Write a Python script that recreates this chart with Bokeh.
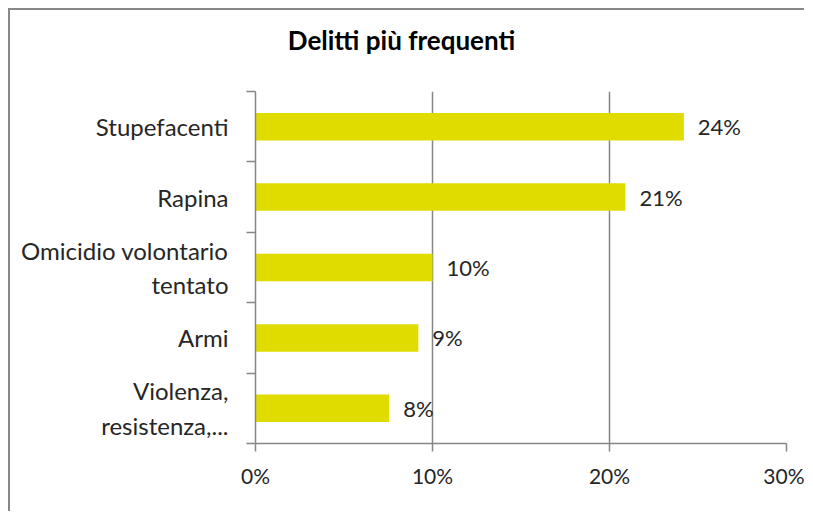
import numpy as np
from bokeh.plotting import figure
from bokeh.models import Range1d, FixedTicker, PrintfTickFormatter, LabelSet, ColumnDataSource, Label
from bokeh.core.properties import value
from bokeh.embed import file_html
from bokeh.resources import INLINE

categories = ["Stupefacenti", "Rapina", "Omicidio volontario\ntentato", "Armi", "Violenza,\nresistenza,..."]
values = [24.2, 20.9, 10.0, 9.2, 7.55]
value_labels = ["24%", "21%", "10%", "9%", "8%"]
x_ticks = [0, 10, 20, 30]
title_text = "Delitti più frequenti"

FONT = "Lato"
TXT = "#262626"
AX = "#868686"
BAR = "#E0DC00"

n = len(categories)
centers = (np.arange(n) + 0.5).tolist()
boundaries = list(range(n + 1))

src = ColumnDataSource(dict(y=centers, v=values, lab=value_labels))

W, H = 796, 503
BL, BR, BT, BB = 245, 20, 81, 70
p = figure(width=W, height=H, output_backend="svg", toolbar_location=None,
           x_range=Range1d(0, x_ticks[-1]), y_range=Range1d(n, 0),
           min_border_left=BL, min_border_right=BR, min_border_top=BT, min_border_bottom=BB)
p.styles = {"margin-left": "8px", "margin-top": "8px",
            "border-left": "2px solid #878787", "border-top": "2px solid #878787"}
p.outline_line_color = None
p.background_fill_color = "white"
p.border_fill_color = "white"

p.hbar(y="y", right="v", left=0, height=0.39, source=src, fill_color=BAR, line_color=None)

labels = LabelSet(x="v", y="y", text="lab", source=src, x_offset=14, text_baseline="middle",
                  text_font=value(FONT), text_font_size="22px", text_color=TXT)
p.add_layout(labels)

# chart title, placed in the panel above the frame
title = Label(text=title_text, x_units="screen", y_units="screen",
              x=146, y=52, text_align="center", text_baseline="middle",
              text_font=FONT, text_font_style="bold", text_font_size="26px", text_color="#000000")
p.add_layout(title, "above")

# x axis
xa = p.xaxis[0]
xa.ticker = FixedTicker(ticks=x_ticks)
xa.formatter = PrintfTickFormatter(format="%d%%")
xa.axis_line_color = AX
xa.axis_line_width = 1.5
xa.major_tick_line_color = AX
xa.major_tick_line_width = 1.5
xa.major_tick_out = 8
xa.major_tick_in = 0
xa.minor_tick_line_color = None
xa.major_label_standoff = 11
xa.major_label_text_font = FONT
xa.major_label_text_font_size = "21px"
xa.major_label_text_color = TXT

# y axis
ya = p.yaxis[0]
ya.ticker = FixedTicker(ticks=centers, minor_ticks=boundaries)
ya.major_label_overrides = {c: lab for c, lab in zip(centers, categories)}
ya.axis_line_color = AX
ya.axis_line_width = 1.5
ya.major_tick_line_color = None
ya.major_tick_out = 0
ya.major_tick_in = 0
ya.minor_tick_line_color = AX
ya.minor_tick_line_width = 1.5
ya.minor_tick_out = 9
ya.minor_tick_in = 0
ya.major_label_standoff = 18
ya.major_label_text_font = FONT
ya.major_label_text_font_size = "24px"
ya.major_label_text_color = TXT

p.xgrid.ticker = FixedTicker(ticks=x_ticks)
p.xgrid.grid_line_color = AX
p.xgrid.grid_line_width = 1.5
p.ygrid.grid_line_color = None

open("out.html", "w").write(file_html(p, INLINE))
